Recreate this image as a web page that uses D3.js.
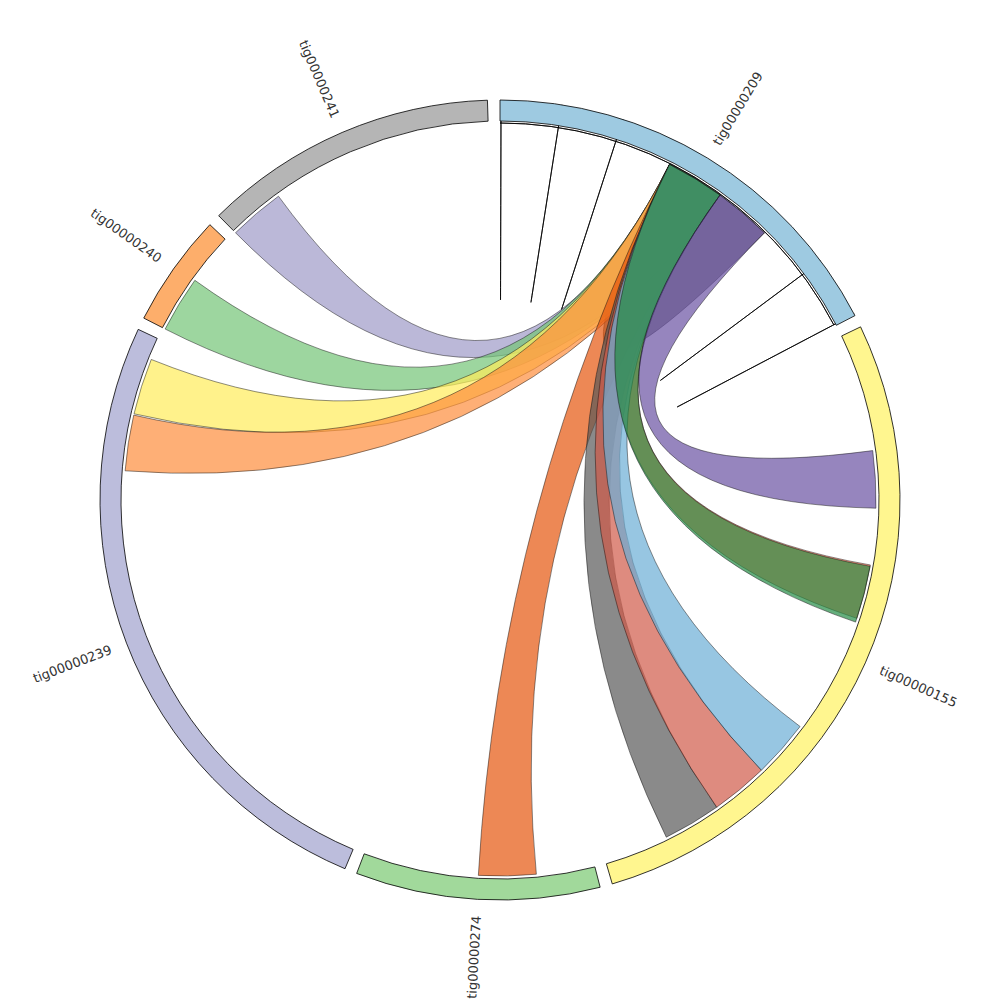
<!DOCTYPE html>
<html><head><meta charset="utf-8">
<script src="https://cdn.jsdelivr.net/npm/d3@7"></script>
<style>html,body{margin:0;padding:0;background:#fff;}</style>
</head><body>
<svg id="chart" width="1000" height="1000"></svg>
<script>
// ---- segments (contigs), lengths in kb (estimated from arc spans)
const segmentNames   = ["tig00000209","tig00000155","tig00000274","tig00000239","tig00000240","tig00000241"];
const segmentLengths = [1251, 1987, 710, 1849, 329, 858];
const segmentColors  = ["#9ecae1","#fff68f","#a1d99b","#bcbddc","#fdae6b","#b5b5b5"];

// ---- ribbons (alignments): source on tig00000209, target on a contig (kb positions)
const linkSourceSeg   = ["tig00000209","tig00000209","tig00000209","tig00000209","tig00000209","tig00000209","tig00000209","tig00000209","tig00000209","tig00000209","tig00000209","tig00000209"];
const linkSourceStart = [536, 536, 536, 536, 536, 536, 536, 536, 536, 536, 536, 716];
const linkSourceEnd   = [716, 716, 716, 716, 716, 716, 716, 716, 716, 716, 716, 894];
const linkTargetSeg   = ["tig00000209","tig00000155","tig00000241","tig00000240","tig00000239","tig00000239","tig00000274","tig00000155","tig00000155","tig00000155","tig00000155","tig00000155"];
const linkTargetStart = [716, 712, 0,   0,   1609, 1433, 179, 1609, 1432, 1254, 716, 362];
const linkTargetEnd   = [894, 880, 172, 174, 1783, 1605, 356, 1788, 1609, 1432, 892, 538];
const linkColors      = ["#636363","#fb6a4a","#9e9ac8","#74c476","#ffec5a","#fd8d3c","#e6550d","#585858","#d05a48","#6baed6","#238b45","#6a51a3"];

// ---- zero-width self links on tig00000209 (kb positions)
const selfLinkPositions = [3, 178, 358, 1066, 1246];

const W = 1000, H = 1000, cx = 500, cy = 500;
const outerR = 400, innerR = 379, linkR = 376, labelR = 458;
const gapDeg = 1.8;

const svg = d3.select("#chart");
const g = svg.append("g").attr("transform", `translate(${cx},${cy})`);

const rad = Math.PI / 180;
const total = d3.sum(segmentLengths);
const k = (360 - gapDeg * segmentNames.length) / total;
let acc = 0;
const segs = segmentNames.map((name, i) => {
  const start = acc, end = acc + segmentLengths[i] * k;
  acc = end + gapDeg;
  return {name, len: segmentLengths[i], color: segmentColors[i],
          startAngle: start * rad, endAngle: end * rad,
          scale: d3.scaleLinear().domain([0, segmentLengths[i]]).range([start * rad, end * rad])};
});
const segByName = Object.fromEntries(segs.map(s => [s.name, s]));
const s209 = segByName["tig00000209"];

// zero-width self links (drawn from the outer radius, under the ring)
const selfLinks = selfLinkPositions.map(p => {
  const a = s209.scale(p);
  return {source: {startAngle: a, endAngle: a}, target: {startAngle: a, endAngle: a}};
});
g.selectAll("path.self").data(selfLinks).enter().append("path")
  .attr("class", "self")
  .attr("d", d3.ribbon().radius(outerR))
  .attr("fill", "none")
  .attr("stroke", "#000")
  .attr("stroke-width", 0.8);

// ring
const arc = d3.arc().innerRadius(innerR).outerRadius(outerR);
g.selectAll("path.seg").data(segs).enter().append("path")
  .attr("class", "seg")
  .attr("d", arc)
  .attr("fill", d => d.color)
  .attr("stroke", "#000")
  .attr("stroke-width", 0.8);

// thin inner track line along tig00000209
g.append("path")
  .attr("d", d3.arc().innerRadius(linkR + 1).outerRadius(linkR + 1)({startAngle: s209.startAngle, endAngle: s209.scale(selfLinkPositions[selfLinkPositions.length-1])}))
  .attr("fill", "none").attr("stroke", "#000").attr("stroke-width", 0.8);

// ribbons
const ribbon = d3.ribbon().radius(linkR);
const links = linkColors.map((c, i) => ({
  source: {startAngle: segByName[linkSourceSeg[i]].scale(linkSourceStart[i]), endAngle: segByName[linkSourceSeg[i]].scale(linkSourceEnd[i])},
  target: {startAngle: segByName[linkTargetSeg[i]].scale(linkTargetStart[i]), endAngle: segByName[linkTargetSeg[i]].scale(linkTargetEnd[i])},
  color: c
}));
g.selectAll("path.link").data(links).enter().append("path")
  .attr("class", "link")
  .attr("d", ribbon)
  .attr("fill", d => d.color)
  .attr("fill-opacity", 0.7)
  .attr("stroke", "#111")
  .attr("stroke-opacity", 0.8)
  .attr("stroke-width", 0.6);

// labels
g.selectAll("text.lbl").data(segs).enter().append("text")
  .attr("class", "lbl")
  .attr("transform", d => {
    const mid = (d.startAngle + d.endAngle) / 2 / rad;
    return `rotate(${mid - 90}) translate(${labelR},0)` + (mid > 180 ? " rotate(180)" : "");
  })
  .attr("text-anchor", "middle")
  .attr("dominant-baseline", "central")
  .attr("font-family", "DejaVu Sans, sans-serif")
  .attr("font-size", 13)
  .attr("fill", "#333")
  .text(d => d.name);
</script>
</body></html>
